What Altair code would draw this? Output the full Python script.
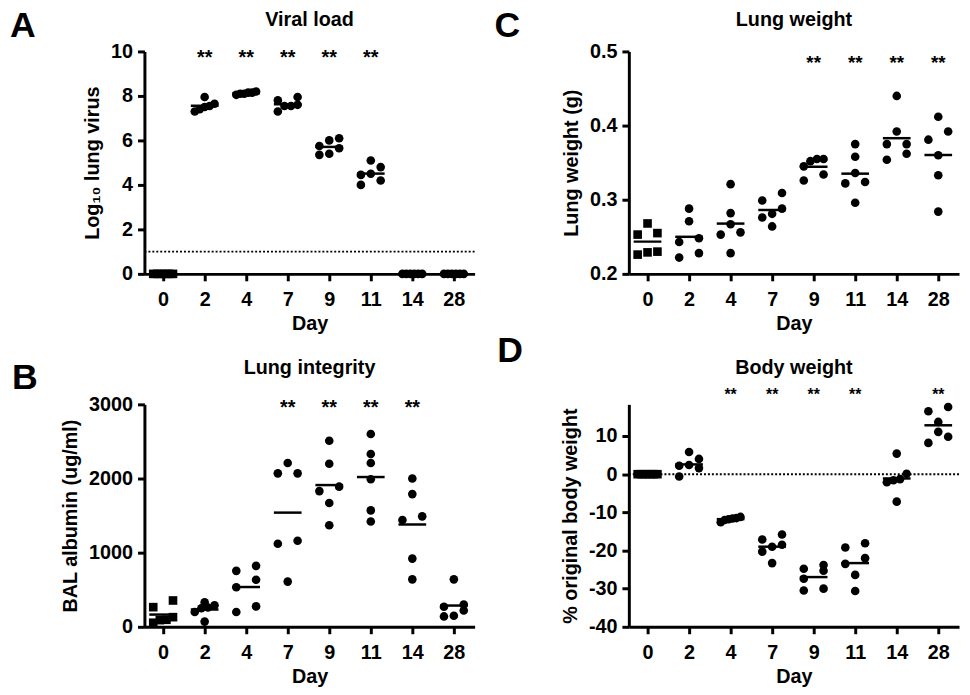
import altair as alt
import pandas as pd

# ---------------- data ----------------
DAYS = ["0", "2", "4", "7", "9", "11", "14", "28"]

viral_load = [
    [0, 0, 0, 0, 0, 0],
    [7.4, 7.65, 7.55, 7.95, 7.3, 7.5],
    [8.1, 8.2, 8.15, 8.1, 8.05, 8.15],
    [7.8, 7.3, 7.55, 7.95, 7.55, 7.6],
    [6.1, 5.35, 6.0, 5.4, 5.65, 5.75],
    [5.1, 4.5, 4.0, 4.45, 4.8, 4.2],
    [0, 0, 0, 0, 0, 0],
    [0, 0, 0, 0, 0, 0],
]

lung_integrity = [
    [355, 265, 90, 55, 130, 95],
    [290, 250, 70, 330, 200, 260],
    [755, 533, 200, 822, 635, 275],
    [2070, 2210, 2070, 1160, 1120, 610],
    [2510, 2200, 1830, 1890, 1670, 1370],
    [2600, 2330, 2210, 1990, 1570, 1420],
    [2000, 1790, 1440, 1490, 920, 640],
    [640, 270, 220, 300, 140, 150],
]

lung_weight = [
    [0.268, 0.255, 0.253, 0.226, 0.229, 0.230],
    [0.288, 0.271, 0.243, 0.248, 0.222, 0.228],
    [0.321, 0.282, 0.256, 0.267, 0.253, 0.228],
    [0.299, 0.309, 0.281, 0.288, 0.276, 0.264],
    [0.352, 0.355, 0.355, 0.345, 0.326, 0.334],
    [0.375, 0.358, 0.336, 0.324, 0.322, 0.296],
    [0.440, 0.392, 0.375, 0.375, 0.354, 0.362],
    [0.412, 0.392, 0.381, 0.360, 0.333, 0.284],
]

body_weight = [
    [0, 0, 0, 0, 0, 0],
    [5.8, 2.4, 2.2, 4.0, 1.6, -0.6],
    [-12.0, -11.6, -11.2, -12.6, -11.5, -11.8],
    [-15.8, -17.1, -18.5, -19.0, -20.3, -23.3],
    [-23.8, -24.8, -25.3, -27.4, -30.5, -30.0],
    [-19.2, -18.1, -22.0, -23.5, -26.4, -30.6],
    [5.4, 0.1, -1.3, -1.6, -2.1, -7.2],
    [17.6, 16.5, 13.7, 11.1, 9.8, 8.2],
]

# days marked with ** (as day labels)
stars_viral = ["2", "4", "7", "9", "11"]
stars_integrity = ["7", "9", "11", "14"]
stars_weight = ["9", "11", "14", "28"]
stars_body = ["4", "7", "9", "11", "28"]

# ---------------- styling ----------------
FONT = "Liberation Sans"
W, H = 334, 225
XDOM = [-0.45, 7.5]
STEP = W / (XDOM[1] - XDOM[0])
LABEL_EXPR = "[" + ",".join("'%s'" % d for d in DAYS) + "][datum.value]"


def swarm(values, ppu, diam=9.0, span=20.0):
    """GraphPad-like scatter spread: points closer than one symbol are put side by side."""
    order = sorted(range(len(values)), key=lambda k: values[k])
    clusters = []
    for k in order:
        if clusters and (values[k] - values[clusters[-1][0]]) * ppu < diam:
            clusters[-1].append(k)
        else:
            clusters.append([k])
    offs = [0.0] * len(values)
    for c in clusters:
        n = len(c)
        if n < 2:
            continue
        sp = span / (n - 1)
        for j, k in enumerate(c):
            offs[k] = (j - (n - 1) / 2.0) * sp
    return offs


def label(text, size, x, y, align):
    return alt.Chart(pd.DataFrame({"t": [text]})).mark_text(
        font=FONT, fontSize=size, fontWeight="bold", color="black",
        align=align, baseline="alphabetic"
    ).encode(text="t:N", x=alt.value(x), y=alt.value(y))


def panel(letter, title, ytitle, values, domain, ticks, ylabel_expr, stars, star_y,
          star_size, ref_y, title_y, letter_x, letter_y):
    ppu = H / (domain[1] - domain[0])
    rows = []
    for i, day in enumerate(DAYS):
        offs = swarm(values[i], ppu)
        for v, o in zip(values[i], offs):
            rows.append({"idx": i, "pos": i + o / STEP, "value": v,
                         "sym": "s" if i == 0 else "c"})
    df = pd.DataFrame(rows)

    xs = alt.Scale(domain=XDOM, nice=False, zero=False)
    xa = alt.Axis(values=list(range(len(DAYS))), labelExpr=LABEL_EXPR, title="Day",
                  labelPadding=9, titlePadding=4, labelFlush=False, labelOverlap=False)
    ys = alt.Scale(domain=domain, nice=False, zero=False)
    ya = alt.Axis(values=ticks, labelExpr=ylabel_expr, title=ytitle, labelPadding=5,
                  titlePadding=8, labelFlush=False, labelOverlap=False)

    def X(f):
        return alt.X(f, type="quantitative", scale=xs, axis=xa)

    def Y(f):
        return alt.Y(f, type="quantitative", scale=ys, axis=ya)

    base = alt.Chart(df)
    pts = base.mark_point(filled=True, opacity=1, size=76, color="black").encode(
        x=X("pos"), y=Y("value"),
        shape=alt.Shape("sym:N", scale=alt.Scale(domain=["c", "s"], range=["circle", "square"]),
                        legend=None),
    )
    means = base.transform_aggregate(value="mean(value)", groupby=["idx"]).mark_tick(
        orient="horizontal", size=28, thickness=2.5, color="black", opacity=1
    ).encode(x=X("idx"), y=Y("value"))

    star_df = pd.DataFrame({"idx": [DAYS.index(d) for d in stars]})
    star_layer = alt.Chart(star_df).mark_text(
        text="**", font=FONT, fontSize=star_size, fontWeight="bold", color="black",
        baseline="alphabetic", dy=round(star_size * 0.5)
    ).encode(x=X("idx"), y=alt.datum(star_y))

    layers = []
    if ref_y is not None:
        rule = alt.Chart(pd.DataFrame({"value": [ref_y]})).mark_rule(
            color="black", strokeWidth=2, strokeDash=[2, 2]
        ).encode(y=Y("value"))
        layers.append(rule)
    layers += [means, pts, star_layer,
               label(letter, 36, letter_x, letter_y, "left"),
               label(title, 20, W / 2, title_y, "center")]

    return alt.layer(*layers).properties(width=W, height=H)


INT_LABEL = "'' + datum.value"
DEC_LABEL = "format(datum.value, '.1f')"

pA = panel("A", "Viral load", "Log\u2081\u2080 lung virus", viral_load, [0, 10],
           [0, 2, 4, 6, 8, 10], INT_LABEL, stars_viral, 9.9, 20, 1, -26, -136, -15)
pB = panel("B", "Lung integrity", "BAL albumin (ug/ml)", lung_integrity, [0, 3000],
           [0, 1000, 2000, 3000], INT_LABEL, stars_integrity, 3000, 20, None, -31, -134, -16)
pC = panel("C", "Lung weight", "Lung weight (g)", lung_weight, [0.2, 0.5],
           [0.2, 0.3, 0.4, 0.5], DEC_LABEL, stars_weight, 0.49, 19, None, -26, -136, -15)
pD = panel("D", "Body weight", "% original body weight", body_weight, [-40, 18.3],
           [-40, -30, -20, -10, 0, 10], INT_LABEL, stars_body, 21.6, 16, 0, -31, -133, -43)

chart = alt.concat(
    pA, pC, pB, pD, columns=2, spacing={"row": 132, "column": 156}, bounds="flush"
).properties(
    padding={"left": 2, "top": -4, "right": 2, "bottom": 2}, background="white"
).configure_view(stroke=None).configure_axis(
    grid=False, domainColor="black", domainWidth=3, tickColor="black", tickWidth=3,
    tickSize=7, labelFont=FONT, labelFontSize=20, labelFontWeight="bold",
    labelColor="black", titleFont=FONT, titleFontSize=20, titleFontWeight="bold",
    titleColor="black",
)

chart.save("out.html", embed_options={"renderer": "svg", "actions": False})
